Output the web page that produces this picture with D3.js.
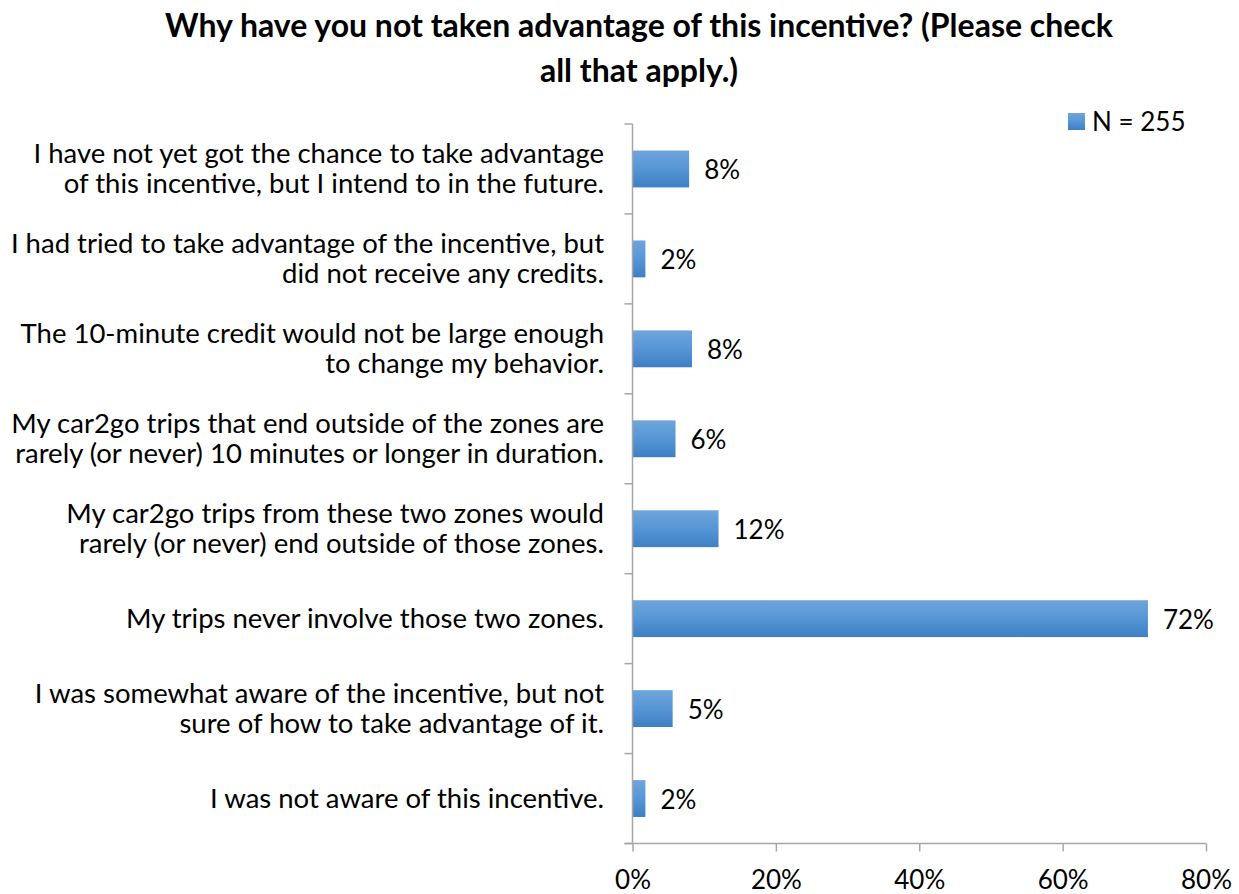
<!DOCTYPE html>
<html><head><meta charset="utf-8">
<script src="https://cdn.jsdelivr.net/npm/d3@7"></script>
<style>body{margin:0;background:#fff}svg{display:block}text{font-family:Lato,"Open Sans",sans-serif;fill:#000}</style>
</head><body>
<svg id="c" width="1239" height="894"></svg>
<script>
const categories = [
  ["I have not yet got the chance to take advantage", "of this incentive, but I intend to in the future."],
  ["I had tried to take advantage of the incentive, but", "did not receive any credits."],
  ["The 10-minute credit would not be large enough", "to change my behavior."],
  ["My car2go trips that end outside of the zones are", "rarely (or never) 10 minutes or longer in duration."],
  ["My car2go trips from these two zones would", "rarely (or never) end outside of those zones."],
  ["My trips never involve those two zones."],
  ["I was somewhat aware of the incentive, but not", "sure of how to take advantage of it."],
  ["I was not aware of this incentive."]
];
const values = [7.9, 1.8, 8.3, 6.0, 12.0, 71.9, 5.6, 1.8];
const valueLabels = ["8%", "2%", "8%", "6%", "12%", "72%", "5%", "2%"];
const xTicks = [0, 20, 40, 60, 80];
const seriesName = "N = 255";
const titleLines = ["Why have you not taken advantage of this incentive? (Please check", "all that apply.)"];

(function(){
const svg = d3.select("#c");
const pL = 632.5, pR = 1206, pT = 124, pB = 843.5;
const x = d3.scaleLinear().domain([0, 80]).range([pL, pR]);
const y = d3.scaleBand().domain(d3.range(categories.length)).range([pT, pB]).paddingInner(0.59).paddingOuter(0.295);

const defs = svg.append("defs");
const g = defs.append("linearGradient").attr("id","bg").attr("x1",0).attr("y1",0).attr("x2",0).attr("y2",1);
g.append("stop").attr("offset","0%").attr("stop-color","#6fa5dc");
g.append("stop").attr("offset","50%").attr("stop-color","#5696d6");
g.append("stop").attr("offset","100%").attr("stop-color","#3e7fc3");

svg.append("g").selectAll("text").data(titleLines).join("text")
  .attr("x", 639).attr("y", (d,i)=>37 + i*45)
  .attr("text-anchor","middle").attr("font-size", 32).attr("font-weight","bold")
  .text(d=>d);

svg.append("g").selectAll("rect").data(values).join("rect")
  .attr("x", x(0)).attr("y", (d,i)=>y(i)).attr("width", d=>x(d)-x(0)).attr("height", y.bandwidth())
  .attr("fill","url(#bg)");

const axisColor = "#a6a6a6";
const yb = svg.append("g");
yb.append("line").attr("x1",pL).attr("x2",pL).attr("y1",pT).attr("y2",pB).attr("stroke",axisColor).attr("stroke-width",1.5);
yb.selectAll("line.t").data(d3.range(categories.length+1)).join("line").attr("class","t")
  .attr("x1",pL-8).attr("x2",pL).attr("y1",i=>pT+i*(pB-pT)/categories.length).attr("y2",i=>pT+i*(pB-pT)/categories.length)
  .attr("stroke",axisColor).attr("stroke-width",1.5);

const xa = svg.append("g").attr("transform",`translate(0,${pB})`)
  .call(d3.axisBottom(x).tickValues(xTicks).tickSize(8).tickFormat(d=>d+"%"));
xa.select(".domain").attr("stroke",axisColor).attr("stroke-width",1.5).attr("d",`M${pL-8},0H${pR}`);
xa.selectAll(".tick line").attr("stroke",axisColor).attr("stroke-width",1.5);
xa.selectAll(".tick text").attr("font-size",26).attr("font-family","Lato,'Open Sans',sans-serif").attr("fill","#000").attr("dy","0").attr("y",45);

const cl = svg.append("g");
categories.forEach((lines,i)=>{
  const cy = y(i)+y.bandwidth()/2;
  const n = lines.length;
  cl.append("text").attr("x",604).attr("text-anchor","end").attr("font-size",27.5)
    .selectAll("tspan").data(lines).join("tspan")
    .attr("x",604).attr("y",(d,j)=>cy + (j-(n-1)/2)*30 + 9).text(d=>d);
});

svg.append("g").selectAll("text").data(values).join("text")
  .attr("x", d=>x(d)+15).attr("y",(d,i)=>y(i)+y.bandwidth()/2+10)
  .attr("font-size",26).text((d,i)=>valueLabels[i]);

const lg = svg.append("g");
lg.append("rect").attr("x",1068).attr("y",113).attr("width",17).attr("height",17).attr("fill","url(#bg)");
lg.append("text").attr("x",1092).attr("y",131).attr("font-size",26).text(seriesName);
})();
</script>
</body></html>
